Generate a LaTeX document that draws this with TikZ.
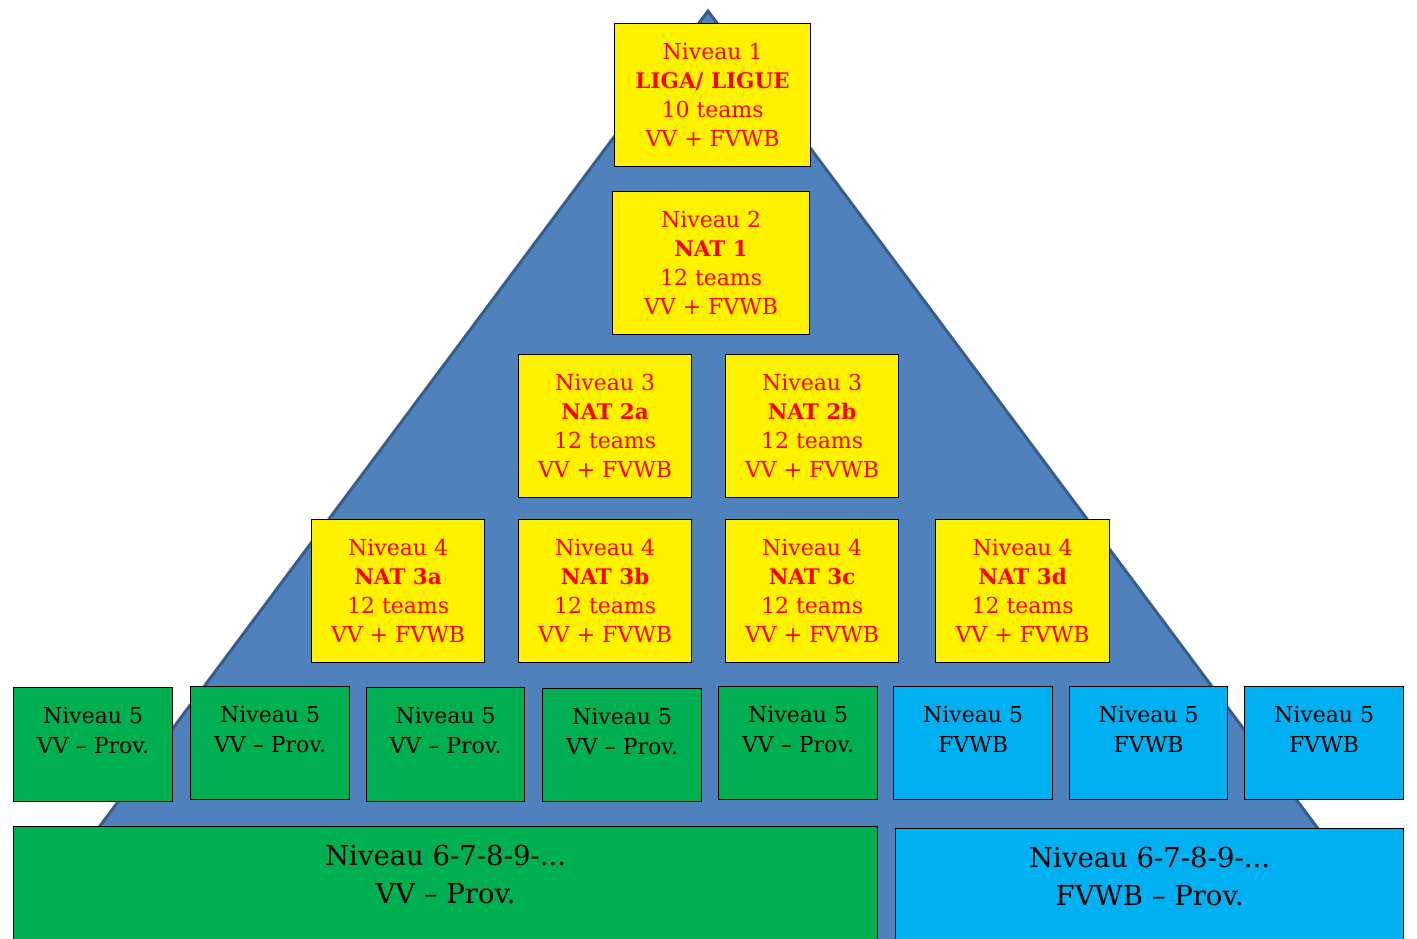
\documentclass[tikz,border=0pt]{standalone}
\usepackage{fontspec}
\setmainfont{DejaVu Serif}
\definecolor{pyr}{HTML}{4F81BD}
\definecolor{pyredge}{HTML}{385D8A}
\definecolor{ygreen}{HTML}{00B050}
\definecolor{lblue}{HTML}{00B0F0}
\definecolor{tred}{HTML}{FF0000}
\tikzset{
  ybox/.style={draw=black, line width=1.2pt, fill=yellow, anchor=north west, inner sep=0pt,
    text=tred, align=center, font=\fontsize{22}{29}\selectfont},
  gbox/.style={draw=black, line width=1.2pt, fill=ygreen, anchor=north west, inner sep=0pt},
  bbox/.style={draw=black, line width=1.2pt, fill=lblue, anchor=north west, inner sep=0pt},
  lab5/.style={anchor=north, inner sep=0pt, align=center, font=\fontsize{22}{30}\selectfont},
  labbig/.style={anchor=north, inner sep=0pt, align=center, font=\fontsize{27.5}{38}\selectfont},
}
\newcommand{\ylab}[4]{#1\\{\fontsize{21.5}{29}\selectfont\bfseries #2}\\#3\\#4}
\begin{document}
\begin{tikzpicture}[x=1pt,y=-1pt]
\useasboundingbox (0,0) rectangle (1417,939);
\clip (0,0) rectangle (1417,939);
\fill[white] (0,0) rectangle (1417,939);
% pyramid
\coordinate (apex) at (708,11);
\coordinate (bl) at (6,952);
\coordinate (br) at (1410,952);
\draw[fill=pyr, draw=pyredge, line width=3pt, line join=miter] (apex) -- (bl) -- (br) -- cycle;
% yellow boxes
\node[ybox, minimum width=196pt, minimum height=143pt] (n1) at (614,23) {\ylab{Niveau 1}{LIGA/ LIGUE}{10 teams}{VV + FVWB}};
\node[ybox, minimum width=197pt, minimum height=143pt] (n2) at (612,191) {\ylab{Niveau 2}{NAT 1}{12 teams}{VV + FVWB}};
\node[ybox, minimum width=173pt, minimum height=143pt] (n3a) at (518,354) {\ylab{Niveau 3}{NAT 2a}{12 teams}{VV + FVWB}};
\node[ybox, minimum width=173pt, minimum height=143pt] (n3b) at (725,354) {\ylab{Niveau 3}{NAT 2b}{12 teams}{VV + FVWB}};
\node[ybox, minimum width=173pt, minimum height=143pt] (n4a) at (311,519) {\ylab{Niveau 4}{NAT 3a}{12 teams}{VV + FVWB}};
\node[ybox, minimum width=173pt, minimum height=143pt] (n4b) at (518,519) {\ylab{Niveau 4}{NAT 3b}{12 teams}{VV + FVWB}};
\node[ybox, minimum width=173pt, minimum height=143pt] (n4c) at (725,519) {\ylab{Niveau 4}{NAT 3c}{12 teams}{VV + FVWB}};
\node[ybox, minimum width=174pt, minimum height=143pt] (n4d) at (935,519) {\ylab{Niveau 4}{NAT 3d}{12 teams}{VV + FVWB}};
% level 5 green
\node[gbox, minimum width=159pt, minimum height=114pt] (g1) at (13,687) {};
\node[gbox, minimum width=159pt, minimum height=113pt] (g2) at (190,686) {};
\node[gbox, minimum width=158pt, minimum height=114pt] (g3) at (366,687) {};
\node[gbox, minimum width=159pt, minimum height=113pt] (g4) at (542,688) {};
\node[gbox, minimum width=159pt, minimum height=113pt] (g5) at (718,686) {};
\foreach \n in {g1,g2,g3,g4,g5}{
  \node[lab5] (\n t) at ([yshift=-20pt]\n.north) {Niveau 5\\VV – Prov.};
}
% level 5 blue
\node[bbox, minimum width=159pt, minimum height=113pt] (b1) at (893,686) {};
\node[bbox, minimum width=158pt, minimum height=113pt] (b2) at (1069,686) {};
\node[bbox, minimum width=159pt, minimum height=113pt] (b3) at (1244,686) {};
\foreach \n in {b1,b2,b3}{
  \node[lab5] (\n t) at ([yshift=-20pt]\n.north) {Niveau 5\\FVWB};
}
% bottom
\node[gbox, minimum width=864pt, minimum height=130pt] (gb) at (13,826) {};
\node[labbig] (gbt) at ([yshift=-19pt]gb.north) {Niveau 6-7-8-9-...\\VV – Prov.};
\node[bbox, minimum width=508pt, minimum height=130pt] (bb) at (895,828) {};
\node[labbig] (bbt) at ([yshift=-19pt]bb.north) {Niveau 6-7-8-9-...\\FVWB – Prov.};
\end{tikzpicture}
\end{document}
